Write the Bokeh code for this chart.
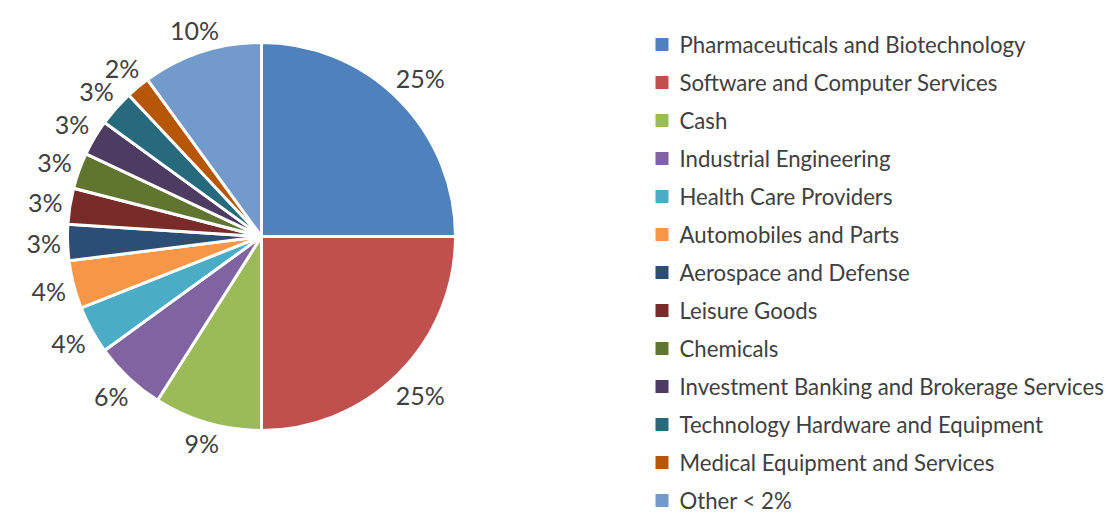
import math
from bokeh.plotting import figure
from bokeh.models import Range1d, ColumnDataSource
from bokeh.core.properties import value
from bokeh.embed import file_html
from bokeh.resources import INLINE

sectors = [
    "Pharmaceuticals and Biotechnology",
    "Software and Computer Services",
    "Cash",
    "Industrial Engineering",
    "Health Care Providers",
    "Automobiles and Parts",
    "Aerospace and Defense",
    "Leisure Goods",
    "Chemicals",
    "Investment Banking and Brokerage Services",
    "Technology Hardware and Equipment",
    "Medical Equipment and Services",
    "Other < 2%",
]
weights = [25, 25, 9, 6, 4, 4, 3, 3, 3, 3, 3, 2, 10]
colors = ["#4F81BD", "#C0504D", "#9BBB59", "#8064A2", "#4BACC6", "#F79646",
          "#2C4D75", "#772C2A", "#5F7530", "#4D3B62", "#276A7C", "#B65708", "#729ACA"]

W, H = 1112, 516
FONT = "Lato"
TXT = "#404040"

p = figure(width=W, height=H, output_backend="svg", toolbar_location=None,
           x_range=Range1d(0, W), y_range=Range1d(516 - H, 516),
           min_border=0, min_border_left=0, min_border_right=0,
           min_border_top=0, min_border_bottom=0)
p.axis.visible = False
p.grid.visible = False
p.outline_line_color = None
p.background_fill_color = "white"

cx, cy, R = 261, 516 - 236, 194
total = float(sum(weights))
starts, ends, mids = [], [], []
cum = 0.0
for w in weights:
    a0 = cum / total * 2 * math.pi
    cum += w
    a1 = cum / total * 2 * math.pi
    starts.append(math.pi / 2 - a1)
    ends.append(math.pi / 2 - a0)
    mids.append(math.pi / 2 - (a0 + a1) / 2)

src = ColumnDataSource(dict(start=starts, end=ends, color=colors))
p.wedge(x=cx, y=cy, radius=R, start_angle="start", end_angle="end",
        direction="anticlock", fill_color="color", line_color="white",
        line_width=3, source=src)

# data labels outside end
fs = 25
lx, ly, lt = [], [], []
for w, m in zip(weights, mids):
    t = f"{w}%"
    tw = fs * (0.56 * (len(t) - 1) + 0.85)
    th = fs * 0.8
    d = R + 6 + abs(math.cos(m)) * tw / 2 + abs(math.sin(m)) * th / 2
    lx.append(cx + d * math.cos(m))
    ly.append(cy + d * math.sin(m))
    lt.append(t)
p.text(x=lx, y=ly, text=lt, text_align="center", text_baseline="middle",
       text_font=value(FONT), text_font_size=f"{fs}px", text_color=TXT)

# legend
step = 38.0
y0 = 516 - 44
ys = [y0 - i * step for i in range(len(sectors))]
p.scatter(x=[661.5] * len(sectors), y=ys, marker="square", size=13,
          fill_color=colors, line_color=None)
p.text(x=[679] * len(sectors), y=ys, text=sectors, text_align="left",
       text_baseline="middle", text_font=value(FONT), text_font_size="22.2px",
       text_color=TXT)

open("out.html", "w").write(file_html(p, INLINE))
